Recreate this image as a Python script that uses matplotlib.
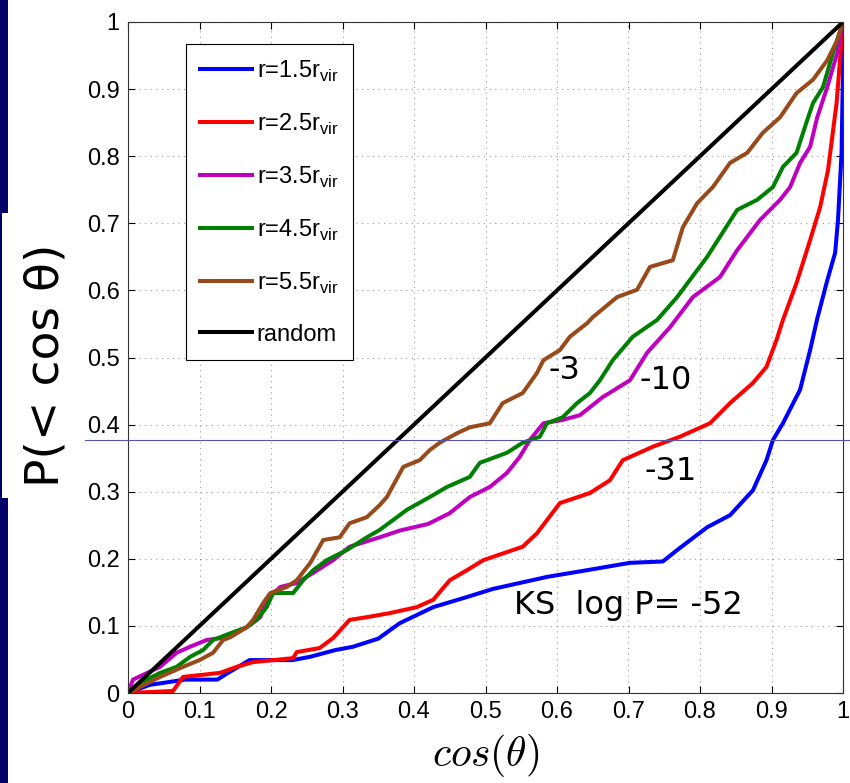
import matplotlib
matplotlib.use("Agg")
import matplotlib.pyplot as plt
from matplotlib.patches import Rectangle
from matplotlib.lines import Line2D
import matplotlib.transforms as mtransforms
import numpy as np

# ---------------------------------------------------------------------------
# Dane
# ---------------------------------------------------------------------------
x_r15 = [0, 0.03, 0.08, 0.125, 0.14, 0.17, 0.23, 0.255, 0.29, 0.315, 0.35, 0.38,
         0.427, 0.474, 0.51, 0.586, 0.642, 0.702, 0.748, 0.768, 0.81, 0.842, 0.874,
         0.893, 0.902, 0.916, 0.94, 0.954, 0.964, 0.978, 0.989, 0.993, 0.998, 1.0, 1.0]
y_r15 = [0, 0.012, 0.02, 0.02, 0.03, 0.049, 0.049, 0.054, 0.064, 0.069, 0.081, 0.104,
         0.128, 0.143, 0.155, 0.173, 0.183, 0.194, 0.196, 0.213, 0.247, 0.265, 0.302,
         0.347, 0.377, 0.402, 0.452, 0.511, 0.558, 0.615, 0.656, 0.705, 0.805, 0.93, 1.0]

x_r25 = [0, 0.063, 0.077, 0.129, 0.152, 0.175, 0.231, 0.236, 0.268, 0.287, 0.31, 0.334,
         0.366, 0.404, 0.427, 0.45, 0.474, 0.497, 0.552, 0.572, 0.604, 0.646, 0.674,
         0.692, 0.734, 0.772, 0.814, 0.842, 0.874, 0.893, 0.907, 0.916, 0.935, 0.954,
         0.968, 0.979, 0.991, 0.998, 1.0]
y_r25 = [0, 0.003, 0.024, 0.03, 0.039, 0.046, 0.052, 0.061, 0.067, 0.082, 0.109, 0.113,
         0.119, 0.128, 0.139, 0.168, 0.183, 0.198, 0.218, 0.238, 0.283, 0.298, 0.317,
         0.347, 0.367, 0.382, 0.402, 0.432, 0.462, 0.486, 0.526, 0.556, 0.611, 0.675,
         0.724, 0.779, 0.879, 0.973, 1.0]

x_r35 = [0, 0.007, 0.045, 0.068, 0.087, 0.11, 0.138, 0.166, 0.185, 0.194, 0.213, 0.236,
         0.259, 0.287, 0.31, 0.352, 0.38, 0.42, 0.45, 0.478, 0.506, 0.53, 0.548, 0.562,
         0.581, 0.608, 0.632, 0.664, 0.702, 0.726, 0.758, 0.79, 0.828, 0.852, 0.884,
         0.912, 0.926, 0.94, 0.954, 0.964, 0.978, 0.992, 1.0]
y_r35 = [0, 0.02, 0.039, 0.06, 0.069, 0.079, 0.083, 0.098, 0.113, 0.139, 0.158, 0.164,
         0.179, 0.198, 0.218, 0.232, 0.242, 0.252, 0.268, 0.292, 0.307, 0.328, 0.352, 0.377,
         0.402, 0.407, 0.414, 0.441, 0.466, 0.507, 0.545, 0.59, 0.62, 0.66, 0.705,
         0.735, 0.754, 0.79, 0.814, 0.858, 0.903, 0.954, 1.0]

x_r45 = [0, 0.017, 0.045, 0.068, 0.087, 0.105, 0.119, 0.143, 0.166, 0.18, 0.194, 0.203,
         0.231, 0.245, 0.259, 0.278, 0.306, 0.334, 0.352, 0.39, 0.422, 0.446, 0.478,
         0.492, 0.53, 0.552, 0.576, 0.586, 0.608, 0.628, 0.646, 0.66, 0.678, 0.706, 0.74,
         0.768, 0.81, 0.828, 0.852, 0.88, 0.902, 0.916, 0.935, 0.95, 0.958, 0.972, 0.986, 1.0]
y_r45 = [0, 0.015, 0.03, 0.039, 0.054, 0.064, 0.079, 0.089, 0.098, 0.109, 0.128, 0.149,
         0.149, 0.168, 0.183, 0.198, 0.213, 0.232, 0.243, 0.273, 0.292, 0.307, 0.322,
         0.343, 0.358, 0.373, 0.382, 0.402, 0.411, 0.432, 0.447, 0.466, 0.496, 0.531, 0.556,
         0.59, 0.65, 0.68, 0.72, 0.735, 0.754, 0.784, 0.805, 0.854, 0.879, 0.903, 0.954, 1.0]

x_r55 = [0, 0.017, 0.045, 0.077, 0.1, 0.119, 0.133, 0.143, 0.166, 0.175, 0.189, 0.199,
         0.222, 0.236, 0.255, 0.273, 0.296, 0.31, 0.334, 0.352, 0.362, 0.385, 0.408, 0.422,
         0.436, 0.46, 0.478, 0.506, 0.524, 0.552, 0.572, 0.581, 0.604, 0.618, 0.642, 0.65,
         0.684, 0.712, 0.73, 0.762, 0.776, 0.796, 0.818, 0.842, 0.866, 0.888, 0.912, 0.935,
         0.958, 0.978, 0.992, 1.0]
y_r55 = [0, 0.009, 0.024, 0.039, 0.049, 0.06, 0.079, 0.083, 0.098, 0.109, 0.134, 0.149,
         0.158, 0.168, 0.194, 0.228, 0.232, 0.253, 0.262, 0.28, 0.292, 0.337, 0.347, 0.362,
         0.373, 0.387, 0.396, 0.402, 0.432, 0.447, 0.477, 0.496, 0.511, 0.531, 0.551, 0.56,
         0.59, 0.601, 0.635, 0.645, 0.694, 0.73, 0.754, 0.79, 0.805, 0.835, 0.858, 0.894,
         0.914, 0.943, 0.973, 1.0]

x_rand = [0, 1]
y_rand = [0, 1]

labels = [r"r=1.5r$_\mathregular{vir}$", r"r=2.5r$_\mathregular{vir}$",
          r"r=3.5r$_\mathregular{vir}$", r"r=4.5r$_\mathregular{vir}$",
          r"r=5.5r$_\mathregular{vir}$", "random"]
colors = ["#0000ff", "#ff0000", "#bf00bf", "#008000", "#994a1a", "black"]

ks_labels = ["-3", "-10", "-31", "KS  log P= -52"]
ks_pos = [(0.61, 0.48), (0.752, 0.466), (0.759, 0.33), (0.70, 0.13)]

ticks = np.round(np.arange(0, 1.01, 0.1), 1)
tick_labels = ["0", "0.1", "0.2", "0.3", "0.4", "0.5", "0.6", "0.7", "0.8", "0.9", "1"]

HLINE_Y = 0.377   # cienka linia ze slajdu

# ---------------------------------------------------------------------------
# Rysunek
# ---------------------------------------------------------------------------
W, H = 850, 783
fig = plt.figure(figsize=(W / 100, H / 100), dpi=100)
ax = fig.add_axes([128 / W, 1 - 693 / H, 715 / W, 671 / H])

series = [(x_r15, y_r15), (x_r25, y_r25), (x_r35, y_r35),
          (x_r45, y_r45), (x_r55, y_r55)]
for (xs, ys), lab, c in zip(series, labels[:5], colors[:5]):
    ax.plot(xs, ys, color=c, lw=2.9, label=lab)
ax.plot(x_rand, y_rand, color="black", lw=2.9, label=labels[5])

ax.set_xlim(0, 1)
ax.set_ylim(0, 1)
ax.set_xticks(ticks)
ax.set_yticks(ticks)
ax.set_xticklabels(tick_labels, family="Liberation Sans", fontsize=17)
ax.set_yticklabels(tick_labels, family="Liberation Sans", fontsize=17)
ax.tick_params(direction="in", length=5, width=0.8, top=True, right=True, pad=6)
ax.grid(True, linestyle=(0, (1, 4)), color="#999999", linewidth=0.8)
for s in ax.spines.values():
    s.set_color("#333333")
    s.set_linewidth(0.8)

ax.set_xlabel(r"$cos(\theta)$", fontsize=30, labelpad=6, math_fontfamily="cm")

leg = ax.legend(loc="upper left", bbox_to_anchor=(0.081, 0.967), borderaxespad=0,
                fancybox=False, edgecolor="black", framealpha=1,
                prop={"family": "Liberation Sans", "size": 17},
                handlelength=2.2, handletextpad=0.2, labelspacing=1.18,
                borderpad=0.6)
leg.get_frame().set_linewidth(0.8)

for t, (px, py) in zip(ks_labels, ks_pos):
    ax.text(px, py, t, fontsize=23, ha="center", va="center", color="black")

# dekoracje slajdu
fig.patches.append(Rectangle((0, 0), 8 / W, 1, transform=fig.transFigure,
                             facecolor="#000066", edgecolor="none", zorder=-2))
fig.patches.append(Rectangle((2 / W, 1 - 498 / H), 78 / W, 285 / H,
                             transform=fig.transFigure, facecolor="white",
                             edgecolor="none", zorder=-1))
tr = mtransforms.blended_transform_factory(fig.transFigure, ax.transData)
fig.add_artist(Line2D([85 / W, 1], [HLINE_Y, HLINE_Y], transform=tr,
                      color="#5555aa", lw=0.8, zorder=5))

fig.text(46 / W, 1 - 365 / H, "P(< cos θ)", rotation=90, fontsize=34,
         ha="center", va="center")

fig.savefig("out.png", dpi=100)
